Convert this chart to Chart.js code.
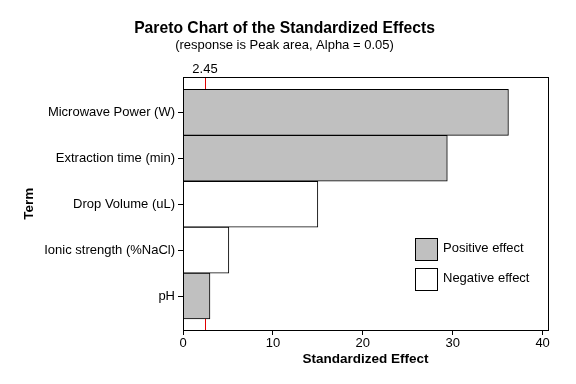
<!DOCTYPE html>
<html>
<head>
<meta charset="utf-8">
<script src="https://cdn.jsdelivr.net/npm/chart.js@4.4.0/dist/chart.umd.min.js"></script>
<style>
  html, body { margin: 0; padding: 0; background: #fff; }
  #wrap { width: 576px; height: 384px; }
</style>
</head>
<body>
<div id="wrap"><canvas id="pareto"></canvas></div>
<script>
var terms = ['Microwave Power (W)', 'Extraction time (min)', 'Drop Volume (uL)', 'Ionic strength (%NaCl)', 'pH'];
var effects = [36.2, 29.4, 15.0, 5.1, 3.0];
var positive = [true, true, false, false, true];
var critical = 2.45;
var xTicks = [0, 10, 20, 30, 40];
var legendLabels = ['Positive effect', 'Negative effect'];

var fontFamily = '"Liberation Sans", Arial, sans-serif';
var gray = '#c0c0c0';

var points = effects.map(function (v, i) { return { x: v, y: i }; });

// reference line behind the bars, frame and legend on top
var paretoExtras = {
    id: 'paretoExtras',
    beforeDatasetsDraw: function (chart) {
        var ctx = chart.ctx, area = chart.chartArea;
        var px = chart.scales.x.getPixelForValue(critical);
        ctx.save();
        ctx.strokeStyle = '#e00000';
        ctx.lineWidth = 1;
        ctx.beginPath();
        ctx.moveTo(Math.round(px) + 0.5, area.top);
        ctx.lineTo(Math.round(px) + 0.5, area.bottom);
        ctx.stroke();
        ctx.fillStyle = '#000';
        ctx.font = '13px ' + fontFamily;
        ctx.textAlign = 'center';
        ctx.textBaseline = 'bottom';
        ctx.fillText(critical.toFixed(2), px, area.top - 2);
        ctx.restore();
    },
    afterDraw: function (chart) {
        var ctx = chart.ctx, area = chart.chartArea;
        ctx.save();
        ctx.strokeStyle = '#000';
        ctx.lineWidth = 1;
        ctx.strokeRect(Math.round(area.left) + 0.5, Math.round(area.top) + 0.5,
            Math.round(area.right - area.left), Math.round(area.bottom - area.top));

        var fills = [gray, '#fff'];
        ctx.font = '13px ' + fontFamily;
        ctx.textAlign = 'left';
        ctx.textBaseline = 'middle';
        for (var i = 0; i < legendLabels.length; i++) {
            var y = 238 + i * 30;
            ctx.fillStyle = fills[i];
            ctx.fillRect(415, y, 22, 22);
            ctx.strokeRect(415.5, y + 0.5, 22, 22);
            ctx.fillStyle = '#000';
            ctx.fillText(legendLabels[i], 443, y + 10);
        }
        ctx.restore();
    }
};

new Chart('pareto', {
    type: 'bar',
    data: {
        datasets: [{
            data: points,
            backgroundColor: positive.map(function (p) { return p ? gray : '#fff'; }),
            borderColor: '#000',
            borderWidth: 1,
            barPercentage: 1,
            categoryPercentage: 1
        }]
    },
    plugins: [paretoExtras],
    options: {
        indexAxis: 'y',
        responsive: true,
        maintainAspectRatio: false,
        animation: false,
        layout: { padding: { left: 21, right: 28, top: 0, bottom: 17 } },
        plugins: {
            legend: { display: false },
            tooltip: { enabled: false },
            title: {
                display: true,
                text: 'Pareto Chart of the Standardized Effects',
                color: '#000',
                font: { family: fontFamily, size: 15.7, weight: 'bold' },
                padding: { top: 19, bottom: 0 }
            },
            subtitle: {
                display: true,
                text: '(response is Peak area, Alpha = 0.05)',
                color: '#000',
                font: { family: fontFamily, size: 13 },
                padding: { top: 0, bottom: 24 }
            }
        },
        scales: {
            x: {
                type: 'linear',
                min: 0,
                max: 40.6,
                afterBuildTicks: function (s) { s.ticks = xTicks.map(function (v) { return { value: v }; }); },
                afterFit: function (s) { s.height = 37; },
                grid: { display: true, drawOnChartArea: false, color: '#000', tickLength: 5 },
                border: { color: '#000' },
                ticks: { color: '#000', font: { family: fontFamily, size: 13 }, padding: 1 },
                title: {
                    display: true,
                    text: 'Standardized Effect',
                    color: '#000',
                    font: { family: fontFamily, size: 13.5, weight: 'bold' },
                    padding: 0
                }
            },
            y: {
                type: 'linear',
                reverse: true,
                offset: false,
                min: -0.76,
                max: 4.74,
                afterBuildTicks: function (s) { s.ticks = terms.map(function (t, i) { return { value: i }; }); },
                afterFit: function (s) { s.width = 162; },
                grid: { display: true, offset: false, drawOnChartArea: false, color: '#000', tickLength: 5 },
                border: { color: '#000' },
                ticks: {
                    color: '#000',
                    font: { family: fontFamily, size: 13 },
                    padding: 3,
                    callback: function (v) { return terms[v]; }
                },
                title: {
                    display: true,
                    text: 'Term',
                    color: '#000',
                    font: { family: fontFamily, size: 13.5, weight: 'bold' },
                    padding: 0
                }
            }
        }
    }
});
</script>
</body>
</html>
